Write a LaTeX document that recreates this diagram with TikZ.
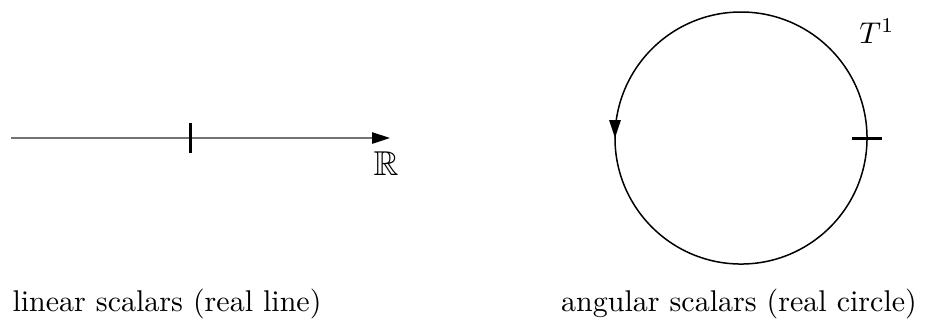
\documentclass[tikz,border=0pt]{standalone}
\usepackage{amssymb}
\usetikzlibrary{arrows.meta,decorations.markings}
\tikzset{
  tip/.style={-{Triangle[length=6pt,width=3.8pt,color=black]}},
  tickmark/.style={line width=1pt,black},
  lbl/.style={inner sep=0pt,font=\fontsize{10}{12}\selectfont},
}
\begin{document}
\begin{tikzpicture}[x=0.3333pt,y=-0.3333pt]
\useasboundingbox (0,0) rectangle (927,324);
% real line
\coordinate (lstart) at (11,138);
\coordinate (lend) at (390,138);
\draw[tip, black!55, line width=0.45pt] (lstart) -- (lend);
\coordinate (ltickA) at (190,123);
\coordinate (ltickB) at (190,153);
\draw[tickmark] (ltickA) -- (ltickB);
\node[lbl, font=\fontsize{11.5}{13}\selectfont] (R) at (386,164) {$\mathbb{R}$};
% circle
\coordinate (c) at (741,138);
\draw[line width=0.5pt, postaction={decorate},
  decoration={markings, mark=at position 0.5 with {\arrow{Triangle[length=6pt,width=3.8pt]}}}]
  (c) circle[radius=42pt];
\coordinate (ctickA) at (852,138);
\coordinate (ctickB) at (882,138);
\draw[tickmark] (ctickA) -- (ctickB);
\node[lbl] (T) at (877,31) {$T^1$};
% labels
\node[lbl, anchor=base] (lin) at (167,311) {linear scalars (real line)};
\node[lbl, anchor=base] (ang) at (739,311) {angular scalars (real circle)};
\end{tikzpicture}
\end{document}
